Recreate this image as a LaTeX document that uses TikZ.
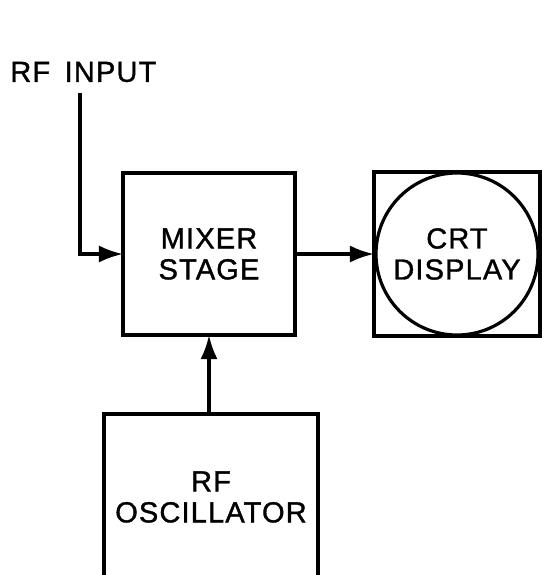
\documentclass[tikz,border=0pt]{standalone}
\usepackage{fontspec}
\setmainfont{Liberation Sans}[LetterSpace=4, FakeBold=1.2]
\usepackage{tikz}
\usetikzlibrary{positioning}
\usetikzlibrary{arrows.meta}
\tikzset{block/.style = {draw, rectangle, line width=1.6pt, align=center,
                         inner sep=0, outer sep=0}}
\tikzset{flow/.style = {line width=1.6pt,
                        -{Latex[length=12pt,width=8.5pt]}}}
\tikzset{lbl/.style = {inner sep=0, align=center,
                       font=\fontsize{14.5}{15.5}\selectfont}}

\begin{document}
\begin{tikzpicture}[x=0.5pt, y=-0.5pt]
      \useasboundingbox (0,0) rectangle (542,575);

      % Blocks
      \node[lbl, anchor=west] (rfin) at (10,72) {RF\enspace INPUT};
      \node[block, lbl, minimum width=86pt, minimum height=81pt]
            (mixer) at (209,254) {MIXER\\STAGE};
      \node[block, minimum width=83pt, minimum height=82pt]
            (crt) at (457,254) {};
      \node[draw, circle, line width=1.6pt, minimum size=81pt, outer sep=0, lbl]
            (screen) at (crt.center) {CRT\\DISPLAY};
      \node[block, lbl, minimum width=107pt, minimum height=83pt]
            (osc) at (211,497) {RF\\OSCILLATOR};

      % Signal paths
      \coordinate (inp) at (80,93);
      \draw[flow] (inp) |- (mixer.west);
      \draw[flow] (mixer.east) -- (crt.west);
      \draw[flow] (osc.north -| mixer) -- (mixer.south);
    \end{tikzpicture}
\end{document}
